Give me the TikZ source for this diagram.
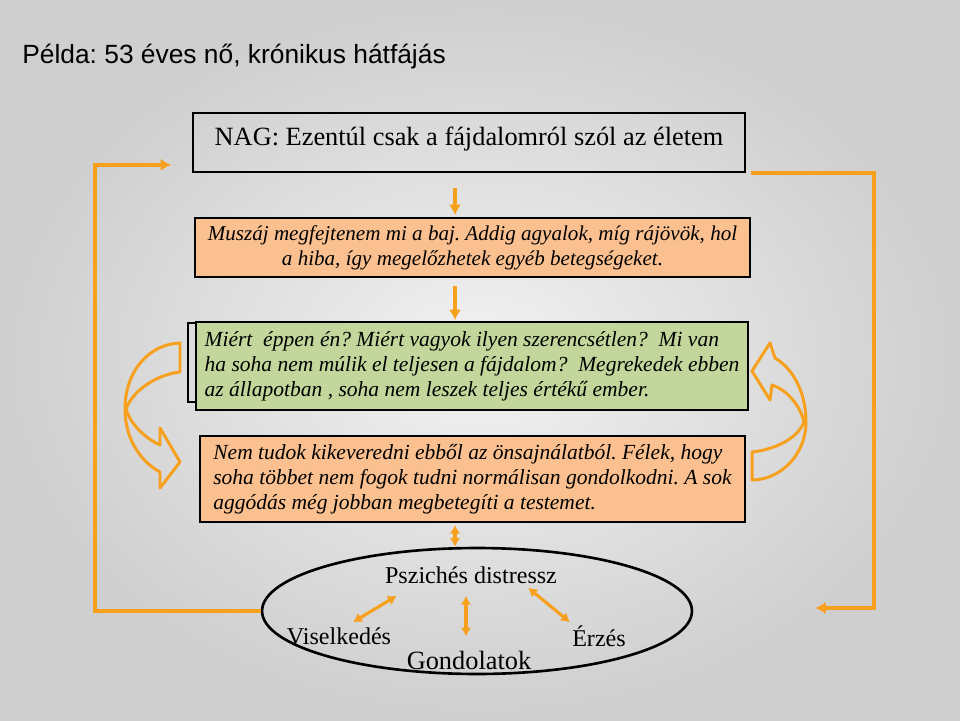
\documentclass[tikz,border=0pt]{standalone}
\usepackage{fontspec}
\setmainfont{Liberation Serif}
\newfontfamily\titlefont{Liberation Sans}
\usetikzlibrary{calc,shapes.geometric,arrows.meta}
\definecolor{arroworange}{RGB}{247,160,30}
\definecolor{boxorange}{RGB}{250,192,144}
\definecolor{boxgreen}{RGB}{195,214,155}
\frenchspacing

\begin{document}
\begin{tikzpicture}[x=0.02cm, y=-0.02cm, >={Latex[length=6pt,width=7pt]},
    box/.style={draw=black, line width=1pt, inner xsep=4.5pt, inner ysep=0pt, font=\fontsize{12}{14.3}\selectfont\itshape},
    bigbox/.style={box, inner xsep=3pt, font=\fontsize{12.25}{14.3}\selectfont\itshape},
    flow/.style={draw=arroworange, line width=2.2pt, ->},
    twoway/.style={draw=arroworange, line width=1.8pt, <->, >={Latex[length=5pt,width=6pt]}},
    feedback/.style={draw=arroworange, line width=2.2pt, ->},
    curl/.style={draw=arroworange, line width=1.7pt, line join=round},
    term/.style={inner sep=0pt, font=\fontsize{13.7}{16}\selectfont}]

    % background
    \shade[inner color=gray!10, outer color=gray!38] (0,0) rectangle (960,720);

    \node[anchor=west, inner sep=0pt, font=\titlefont\fontsize{15}{18}\selectfont] (title) at (22,57) {Példa: 53 éves nő, krónikus hátfájás};

    \node[draw, line width=1pt, inner sep=0pt, minimum width=11.04cm, minimum height=1.18cm, text height=14pt, text depth=11pt,
        font=\fontsize{15}{18}\selectfont] (nag) at (469,142.5) {NAG: Ezentúl csak a fájdalomról szól az életem};

    \node[box, fill=boxorange, minimum width=11.1cm, minimum height=1.18cm, align=center] (muszaj) at (472.5,247.5)
        {Muszáj megfejtenem mi a baj. Addig agyalok, míg rájövök, hol\\ a hiba, így megelőzhetek egyéb betegségeket.};

    \draw[line width=1pt] (188,323) rectangle (740,402);
    \node[bigbox, fill=boxgreen, minimum width=11.04cm, minimum height=1.76cm, align=left] (miert) at (472,366)
        {Miért~ éppen én? Miért vagyok ilyen szerencsétlen?~ Mi van\\ ha soha nem múlik el teljesen a fájdalom?~ Megrekedek ebben\\ az állapotban , soha nem leszek teljes értékű ember.};

    \node[bigbox, fill=boxorange, minimum width=10.9cm, minimum height=1.72cm, align=left] (nemtud) at (472.5,479)
        {Nem tudok kikeveredni ebből az önsajnálatból. Félek, hogy\\ soha többet nem fogok tudni normálisan gondolkodni. A sok\\ aggódás még jobban megbetegíti a testemet.};

    \node[ellipse, draw, line width=1.5pt, minimum width=8.6cm, minimum height=2.52cm, inner sep=0pt] (psyche) at (477,611) {};
    \node[term] (psz) at (471,575) {Pszichés distressz};
    \node[term] (visel) at (339,636) {Viselkedés};
    \node[term, font=\fontsize{15}{18}\selectfont] (gond) at (469,660) {Gondolatok};
    \node[term] (erz) at (599,636) {Érzés};

    % arrows down the middle
    \coordinate (axis) at (455,0);
    \draw[flow] ($(nag.south -| axis)+(0,15)$) -- ($(muszaj.north -| axis)+(0,-2)$);
    \draw[flow] ($(muszaj.south -| axis)+(0,8)$) -- ($(miert.north -| axis)+(0,-1)$);
    \draw[twoway] ($(nemtud.south -| axis)+(0,2)$) -- (psyche.north -| axis);

    \draw[twoway] ($(visel.north)+(14,-5)$) -- ($(psz.south west)+(12,12)$);
    \draw[twoway] ($(psz.south)+(-5,12)$) -- ($(gond.north)+(-3,-14)$);
    \draw[twoway] ($(psz.south east)+(-29,4)$) -- ($(erz.north west)+(-2,-3)$);

    % feedback loops
    \draw[feedback] (psyche.west) -- ++(-166,0) |- ($(nag.south west)+(-21,-8)$);
    \draw[feedback] ($(nag.south east)+(5,0)$) -- ++(123,0) |- ($(psyche.east)+(122,-3)$);

    % curved block arrows
    \draw[curl] (180,343) -- (180,372)
        .. controls (160,374) and (134,388) .. (126,409)
        .. controls (131,425) and (145,438) .. (160,445)
        -- (160,428) -- (180,462) -- (160,488) -- (160,472)
        .. controls (138,460) and (125,436) .. (125,409)
        .. controls (125,370) and (150,344) .. (180,343) -- cycle;
    \draw[curl] (752,480) -- (752,452)
        .. controls (772,450) and (797,440) .. (804,422)
        .. controls (800,405) and (787,390) .. (772,385)
        -- (770,400) -- (752,371) -- (770,343) -- (775,358)
        .. controls (795,370) and (806,395) .. (806,422)
        .. controls (806,455) and (780,480) .. (752,480) -- cycle;
\end{tikzpicture}
\end{document}
